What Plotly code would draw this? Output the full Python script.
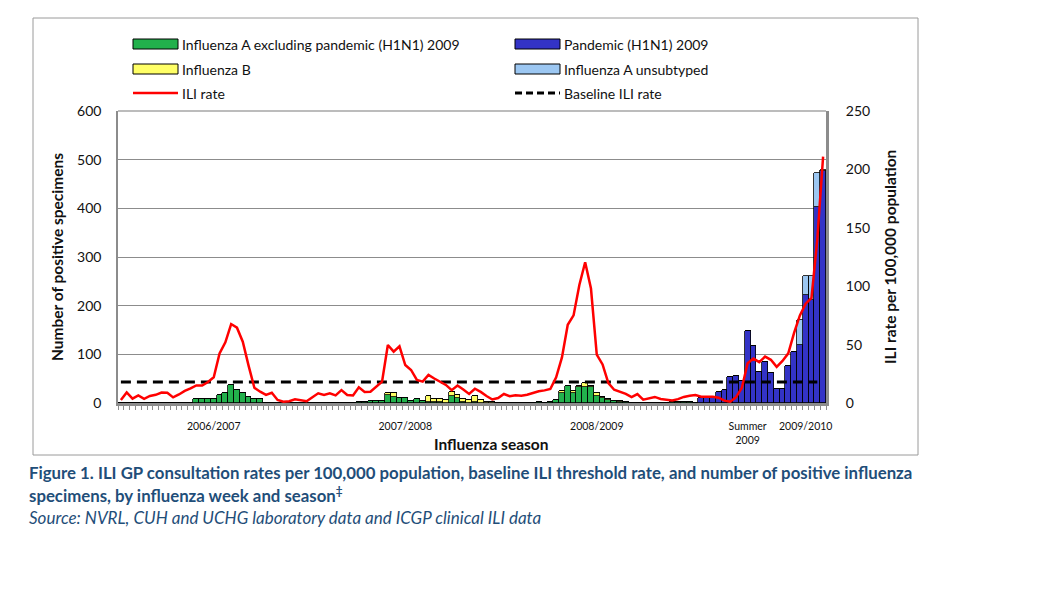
import plotly.graph_objects as go

# weeks shown: three flu seasons (wk40-wk20), summer 2009 (wk21-39), start of 2009/10
season_names = ["2006/2007", "2007/2008", "2008/2009", "Summer<br>2009", "2009/2010"]
season_first_week = [(2006, 40), (2007, 40), (2008, 40), (2009, 21), (2009, 40)]
season_length = [33, 33, 33, 19, 4]
season_label_pos = [16, 49, 82, 108, 118]

# number of positive specimens (left axis)
flu_a_excl = [
    0, 0, 0, 0, 0, 0, 0, 0, 1, 0, 0, 0, 0, 8, 9, 9, 9, 17, 21, 36, 27, 20, 13, 9, 8, 0, 0, 0, 0, 0, 0, 0, 0,
    0, 0, 0, 0, 0, 0, 0, 0, 2, 3, 4, 5, 5, 16, 13, 11, 11, 5, 9, 4, 2, 2, 2, 0, 15, 10, 2, 0, 2, 0, 0, 0, 0,
    0, 0, 0, 0, 0, 0, 3, 0, 2, 7, 21, 34, 21, 33, 32, 32, 15, 10, 7, 5, 3, 2, 1, 0, 0, 0, 0, 0, 0, 2, 2, 3, 2,
    0, 0, 1, 1, 0, 0, 0, 0, 0, 0, 0, 0, 0, 0, 0, 0, 0, 0, 0,
    0, 0, 0, 0,
]
flu_b = [
    0, 0, 0, 0, 0, 0, 0, 0, 0, 0, 0, 0, 0, 0, 0, 0, 0, 0, 0, 0, 0, 0, 0, 0, 0, 0, 0, 0, 0, 0, 0, 0, 0,
    0, 0, 0, 0, 0, 0, 0, 0, 0, 0, 0, 0, 0, 5, 7, 0, 0, 0, 0, 1, 13, 6, 6, 6, 7, 6, 6, 7, 12, 6, 3, 2, 1,
    1, 1, 0, 0, 0, 0, 0, 0, 0, 0, 4, 0, 4, 1, 10, 2, 5, 3, 1, 0, 2, 0, 0, 0, 0, 0, 0, 0, 0, 0, 0, 0, 0,
    0, 0, 0, 0, 0, 0, 0, 0, 0, 0, 0, 0, 0, 0, 0, 0, 0, 0, 0,
    0, 0, 0, 0,
]
pandemic_h1n1 = [0] * 99 + [
    0, 10, 9, 10, 22, 27, 53, 56, 46, 148, 117, 64, 85, 62, 28, 28, 76, 104, 120,
    222, 211, 402, 476,
]
flu_a_unsubtyped = [0] * 99 + [
    0, 0, 0, 0, 0, 0, 0, 0, 0, 0, 0, 0, 0, 0, 0, 0, 0, 0, 50,
    38, 49, 71, 3,
]

# ILI rate per 100,000 (right axis)
ili_rate = [
    2.5, 9, 3.7, 6.5, 3.6, 6, 7, 9, 8.8, 4.8, 7.3, 10.3, 12.5, 15, 15, 18, 22, 42.5, 52, 67.6, 64.5,
    52.5, 32, 13, 9.7, 7, 8.8, 2.6, 1.1, 1.5, 3.1, 2, 1.5,
    5, 8.3, 6.8, 8.3, 6.5, 11, 6.8, 6.5, 13.4, 9.5, 9.7, 14, 18.3, 49.7, 44, 48.5, 32.5, 28.3, 19.7,
    18.3, 24, 21, 18, 15.5, 11, 15, 11.5, 7.8, 12.2, 9.5, 6, 3, 4.3,
    7.7, 5.8, 6.7, 6.3, 7, 8.5, 10, 10.8, 12, 22, 39, 67, 75, 101, 120.5, 98, 41.5, 33, 17, 11.3,
    9.8, 7.8, 5, 7.6, 2.8, 3.8, 5.2, 3.4, 2.5, 2.2, 3.3, 5.2, 6.2,
    6.8, 5.4, 5.4, 5.4, 4.5, 2, 1.1, 5, 13, 34, 38, 35, 39.7, 37, 31, 36, 42.5, 60, 75,
    85, 90, 140, 211,
]
baseline_ili = 18

week_labels = []
for (yr, wk), n in zip(season_first_week, season_length):
    for k in range(n):
        w, y = wk + k, yr
        if w > 52:
            w, y = w - 52, y + 1
        week_labels.append(f"{y} week {w}")
x = list(range(len(week_labels)))
baseline = [baseline_ili] * (len(x) - 1) + [None]

GREEN, BLUE, YELLOW, LBLUE = "#22b14c", "#3333c6", "#ffff66", "#9cc7f2"
FONT = "Lato, Open Sans, sans-serif"
CAP = "#1f4e79"

# page has an 8px body margin, so the figure is a bit smaller than the window
OFF = 8
W, H = 1060 - OFF, 591 - OFF
# plot area in window pixels
L, R, T, B = 118, 826, 111, 403
def px(v): return (v - L) / (R - L)
def py(v): return (B - v) / (B - T)

def bar(y, name, color):
    return go.Bar(x=x, y=y, name=name, hovertext=week_labels, showlegend=False,
                  marker=dict(color=color, line=dict(color="black", width=0.8)))

data = [
    bar(flu_a_excl, "Influenza A excluding pandemic (H1N1) 2009", GREEN),
    bar(pandemic_h1n1, "Pandemic (H1N1) 2009", BLUE),
    bar(flu_b, "Influenza B", YELLOW),
    bar(flu_a_unsubtyped, "Influenza A unsubtyped", LBLUE),
    go.Scatter(x=x, y=baseline, yaxis="y2", mode="lines", name="Baseline ILI rate", showlegend=False,
               line=dict(color="black", width=3, dash="10px,6px")),
    go.Scatter(x=x, y=ili_rate, yaxis="y2", mode="lines", name="ILI rate", showlegend=False,
               hovertext=week_labels, line=dict(color="#ff0000", width=2.5)),
]

shapes = [
    dict(type="rect", xref="paper", yref="paper", x0=px(33), x1=px(918), y0=py(455), y1=py(18),
         line=dict(color="#9a9a9a", width=1), layer="below"),
    # top border of the plot area (gridline at 600)
    dict(type="line", xref="paper", yref="paper", x0=0, x1=1, y0=1, y1=1,
         line=dict(color="#7a7a7a", width=1.2)),
]
annotations = []

# legend (two columns, three rows)
legend_items = [
    (133, 44, "bar", GREEN, "Influenza A excluding pandemic (H1N1) 2009"),
    (515, 44, "bar", BLUE, "Pandemic (H1N1) 2009"),
    (133, 69, "bar", YELLOW, "Influenza B"),
    (515, 69, "bar", LBLUE, "Influenza A unsubtyped"),
    (133, 93, "line", "#ff0000", "ILI rate"),
    (515, 93, "dash", "black", "Baseline ILI rate"),
]
for lx, ly, kind, col, txt in legend_items:
    if kind == "bar":
        shapes.append(dict(type="rect", xref="paper", yref="paper", x0=px(lx), x1=px(lx + 45),
                           y0=py(ly + 5), y1=py(ly - 5), fillcolor=col, line=dict(color="black", width=1)))
    else:
        shapes.append(dict(type="line", xref="paper", yref="paper", x0=px(lx), x1=px(lx + 45),
                           y0=py(ly), y1=py(ly),
                           line=dict(color=col, width=2.5 if kind == "line" else 3,
                                     dash="solid" if kind == "line" else "7px,4px")))
    annotations.append(dict(xref="paper", yref="paper", x=px(lx + 47), y=py(ly), text=txt,
                            showarrow=False, xanchor="left", yanchor="middle",
                            font=dict(size=14, color="#111")))

# axis titles
annotations += [
    dict(xref="paper", yref="paper", x=px(57), y=py(257), text="<b>Number of positive specimens</b>",
         textangle=-90, showarrow=False, xanchor="center", yanchor="middle",
         font=dict(size=15.5, color="#111")),
    dict(xref="paper", yref="paper", x=px(890), y=py(257), text="<b>ILI rate per 100,000 population</b>",
         textangle=-90, showarrow=False, xanchor="center", yanchor="middle",
         font=dict(size=15.5, color="#111")),
    dict(xref="paper", yref="paper", x=px(491), y=py(444), text="<b>Influenza season</b>",
         showarrow=False, xanchor="center", yanchor="middle", font=dict(size=15.5, color="#111")),
]

# caption
annotations += [
    dict(xref="paper", yref="paper", x=px(27), y=py(472), xanchor="left", yanchor="middle", showarrow=False,
         text="<b>Figure 1. ILI GP consultation rates per 100,000 population, baseline ILI threshold rate, "
              "and number of positive influenza</b>", font=dict(size=16.8, color=CAP)),
    dict(xref="paper", yref="paper", x=px(27), y=py(494), xanchor="left", yanchor="middle", showarrow=False,
         text="<b>specimens, by influenza week and season<sup>‡</sup></b>", font=dict(size=16.8, color=CAP)),
    dict(xref="paper", yref="paper", x=px(27), y=py(517), xanchor="left", yanchor="middle", showarrow=False,
         text="<i>Source: NVRL, CUH and UCHG laboratory data and ICGP clinical ILI data</i>",
         font=dict(size=17, color=CAP)),
]

layout = go.Layout(
    width=W, height=H,
    margin=dict(l=L - OFF, r=W - (R - OFF), t=T - OFF, b=H - (B - OFF)),
    font=dict(family=FONT, size=13, color="#111"),
    paper_bgcolor="white", plot_bgcolor="white",
    barmode="stack", bargap=0,
    showlegend=False,
    xaxis=dict(range=[-0.5, len(x) - 0.5], tickmode="array", tickvals=season_label_pos, ticktext=season_names,
               ticks="", tickfont=dict(size=10.5), ticklabelstandoff=12,
               showline=True, linecolor="#8c8c8c", linewidth=2.5, showgrid=False, zeroline=False,
               minor=dict(ticks="outside", tickmode="linear", tick0=-0.5, dtick=1, ticklen=4,
                          tickcolor="#8c8c8c", tickwidth=1, showgrid=False)),
    yaxis=dict(range=[0, 600], tickvals=[0, 100, 200, 300, 400, 500, 600],
               showgrid=True, gridcolor="#8c8c8c", gridwidth=1,
               showline=True, linecolor="#8c8c8c", linewidth=1.5, zeroline=False,
               tickfont=dict(size=14), ticklabelstandoff=12),
    yaxis2=dict(range=[0, 250], tickvals=[0, 50, 100, 150, 200, 250], overlaying="y", side="right",
                showgrid=False, showline=True, linecolor="#8c8c8c", linewidth=3, zeroline=False,
                tickfont=dict(size=14), ticklabelstandoff=14),
    shapes=shapes, annotations=annotations,
)

fig = go.Figure(data=data, layout=layout)
fig.write_html("out.html")
